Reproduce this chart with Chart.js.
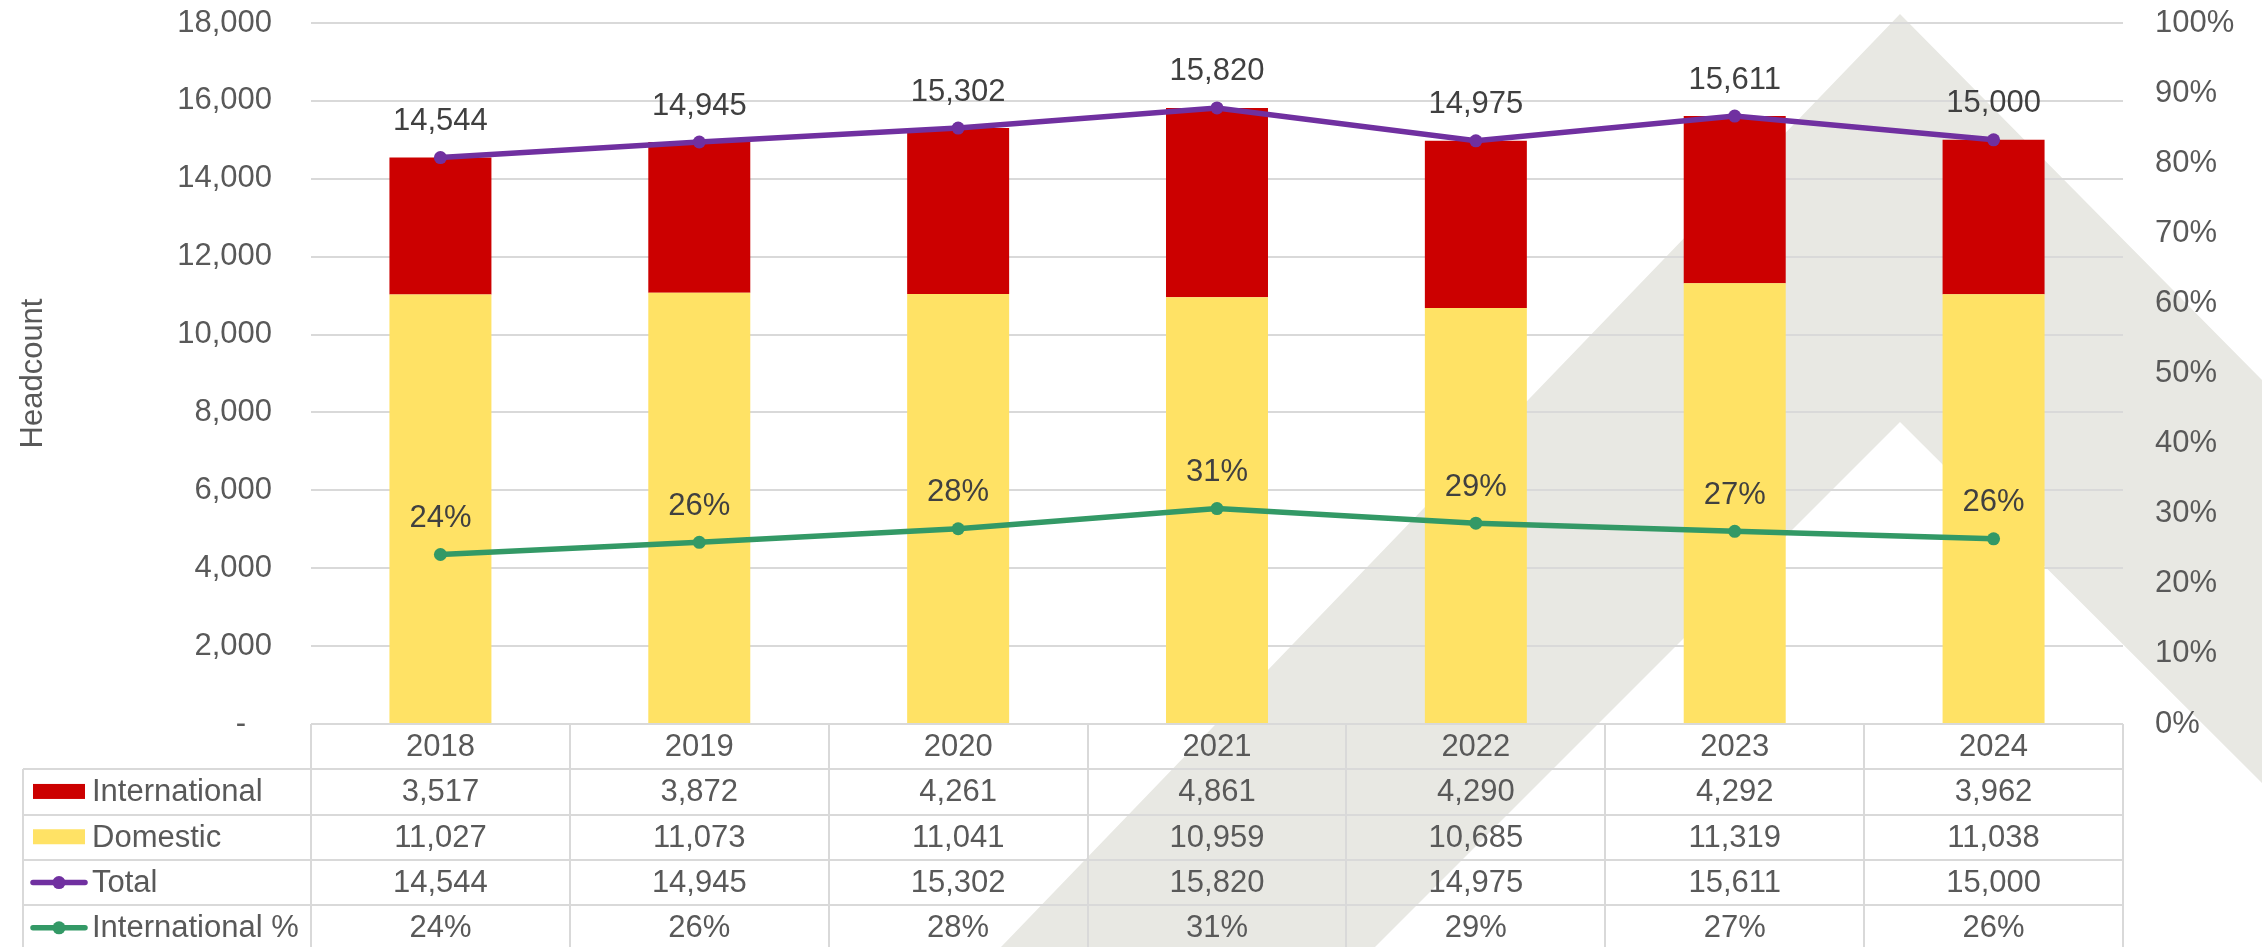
<!DOCTYPE html>
<html><head><meta charset="utf-8">
<script src="https://cdn.jsdelivr.net/npm/chart.js@4.4.1/dist/chart.umd.min.js"></script>
<style>html,body{margin:0;padding:0;background:#fff;} #wrap{width:2262px;height:947px;position:relative;overflow:hidden;}</style>
</head><body><div id="wrap"><canvas id="c" width="2262" height="947"></canvas></div>
<script>
const years = ['2018','2019','2020','2021','2022','2023','2024'];
const international = [3517,3872,4261,4861,4290,4292,3962];
const domestic = [11027,11073,11041,10959,10685,11319,11038];
const total = [14544,14945,15302,15820,14975,15611,15000];
const intlPct = [24.18,25.91,27.85,30.73,28.65,27.49,26.41];
const headcountTicks = [0,2000,4000,6000,8000,10000,12000,14000,16000,18000];
const pctTicks = [0,10,20,30,40,50,60,70,80,90,100];

const FONT = '"Liberation Sans", Arial, sans-serif';
const COL = {intl:'#CC0000', dom:'#FFE265', total:'#7030A0', pct:'#339966', text:'#595959', label:'#404040', grid:'#D9D9D9', mark:'#E8E8E3'};
const fmt = v => v.toLocaleString('en-US');
const fmtPct = v => Math.round(v) + '%';

const watermark = {
  id:'watermark',
  beforeDraw(chart){
    const ctx = chart.ctx, W = chart.width, H = chart.height;
    ctx.save();
    ctx.fillStyle = COL.mark;
    ctx.beginPath();
    ctx.moveTo(1001, H);
    ctx.lineTo(1900, 14);
    ctx.lineTo(W, 380);
    ctx.lineTo(W, 783);
    ctx.lineTo(1900, 422);
    ctx.lineTo(1375, H);
    ctx.closePath();
    ctx.fill();
    ctx.restore();
  }
};

const pointLabels = {
  id:'pointLabels',
  afterDatasetsDraw(chart){
    const ctx = chart.ctx;
    ctx.save();
    ctx.font = '31px ' + FONT;
    ctx.fillStyle = COL.label;
    ctx.textAlign = 'center';
    ctx.textBaseline = 'middle';
    chart.data.datasets.forEach((ds, di) => {
      if (ds.type !== 'line') return;
      const meta = chart.getDatasetMeta(di);
      meta.data.forEach((pt, i) => {
        const txt = ds.isPct ? fmtPct(ds.data[i]) : fmt(ds.data[i]);
        ctx.fillText(txt, pt.x, pt.y - 36);
      });
    });
    ctx.restore();
  }
};

const dataTable = {
  id:'dataTable',
  afterDraw(chart){
    const ctx = chart.ctx, area = chart.chartArea, xs = chart.scales.x, H = chart.height;
    const n = years.length;
    const colW = (area.right - area.left) / n;
    const top = area.bottom, rowH = 45.3, labelLeft = 23;
    ctx.save();
    ctx.strokeStyle = COL.grid;
    ctx.lineWidth = 2;
    ctx.beginPath();
    ctx.moveTo(area.left, top); ctx.lineTo(area.right, top);
    for (let k = 1; k <= 4; k++) {
      const y = Math.round(top + rowH * k);
      ctx.moveTo(labelLeft, y); ctx.lineTo(area.right, y);
    }
    for (let k = 0; k <= n; k++) {
      const x = Math.round(area.left + colW * k);
      ctx.moveTo(x, top); ctx.lineTo(x, H);
    }
    ctx.moveTo(labelLeft, Math.round(top + rowH)); ctx.lineTo(labelLeft, H);
    ctx.stroke();

    ctx.font = '31px ' + FONT;
    ctx.fillStyle = COL.text;
    ctx.textAlign = 'center';
    ctx.textBaseline = 'middle';
    years.forEach((yr, i) => ctx.fillText(yr, xs.getPixelForValue(i), top + rowH * 0.5 + 1));

    const rows = [
      {label:'International', vals: international.map(fmt), kind:'rect', color: COL.intl},
      {label:'Domestic', vals: domestic.map(fmt), kind:'rect', color: COL.dom},
      {label:'Total', vals: total.map(fmt), kind:'line', color: COL.total},
      {label:'International %', vals: intlPct.map(fmtPct), kind:'line', color: COL.pct}
    ];
    rows.forEach((r, ri) => {
      const cy = top + rowH * (ri + 1.5) + 1;
      ctx.fillStyle = COL.text;
      ctx.textAlign = 'center';
      r.vals.forEach((v, i) => ctx.fillText(v, xs.getPixelForValue(i), cy));
      ctx.textAlign = 'left';
      ctx.fillText(r.label, 92, cy);
      if (r.kind === 'rect') {
        ctx.fillStyle = r.color;
        ctx.fillRect(33, cy - 9, 52, 15);
      } else {
        ctx.strokeStyle = r.color;
        ctx.lineWidth = 5.5;
        ctx.lineCap = 'round';
        ctx.beginPath(); ctx.moveTo(33, cy - 1); ctx.lineTo(85, cy - 1); ctx.stroke();
        ctx.fillStyle = r.color;
        ctx.beginPath(); ctx.arc(59, cy - 1, 6.5, 0, Math.PI * 2); ctx.fill();
      }
    });
    ctx.restore();
  }
};

new Chart(document.getElementById('c'), {
  data: {
    labels: years,
    datasets: [
      {type:'line', label:'Total', data: total, yAxisID:'y', stack:'tot', borderColor: COL.total, backgroundColor: COL.total,
       borderWidth:5.5, pointRadius:6.5, pointBorderWidth:0, pointHoverRadius:6.5, tension:0, order:0},
      {type:'line', label:'International %', data: intlPct, isPct:true, yAxisID:'y1', borderColor: COL.pct, backgroundColor: COL.pct,
       borderWidth:5.5, pointRadius:6.5, pointBorderWidth:0, pointHoverRadius:6.5, tension:0, order:0},
      {type:'bar', label:'Domestic', data: domestic, yAxisID:'y', stack:'hc', backgroundColor: COL.dom, order:1,
       categoryPercentage:1, barPercentage:0.394},
      {type:'bar', label:'International', data: international, yAxisID:'y', stack:'hc', backgroundColor: COL.intl, order:1,
       categoryPercentage:1, barPercentage:0.394}
    ]
  },
  options: {
    responsive:false,
    animation:false,
    devicePixelRatio:1,
    layout:{padding:{top:23, bottom:223, left:0, right:0}},
    plugins:{legend:{display:false}, tooltip:{enabled:false}},
    scales:{
      x:{type:'category', stacked:true, display:false, offset:true},
      y:{type:'linear', position:'left', stacked:true, min:0, max:18000,
         afterBuildTicks: s => { s.ticks = headcountTicks.map(v => ({value:v})); },
         afterFit: s => { s.width = 311; s.paddingTop = 16; s.paddingBottom = 16; },
         grid:{color:COL.grid, lineWidth:2, drawTicks:false},
         border:{display:false},
         ticks:{padding:39, color:COL.text, font:{family:FONT, size:31},
                callback: v => v === 0 ? '-   ' : fmt(v)},
         title:{display:true, text:'Headcount', color:COL.text, font:{family:FONT, size:31, lineHeight:1.2}, padding:{top:15, bottom:0}}
      },
      y1:{type:'linear', position:'right', min:0, max:100,
         afterBuildTicks: s => { s.ticks = pctTicks.map(v => ({value:v})); },
         afterFit: s => { s.width = 139; s.paddingTop = 16; s.paddingBottom = 16; },
         grid:{display:false, drawTicks:false},
         border:{display:false},
         ticks:{padding:32, color:COL.text, font:{family:FONT, size:31}, callback: v => v + '%'}
      }
    }
  },
  plugins:[watermark, pointLabels, dataTable]
});
</script>
</body></html>
